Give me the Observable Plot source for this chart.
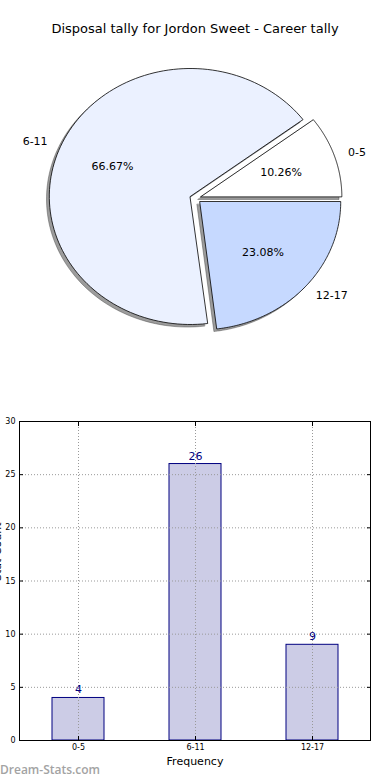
<!DOCTYPE html>
<html><head><meta charset="utf-8">
<script src="https://cdn.jsdelivr.net/npm/d3@7"></script>
<script src="https://cdn.jsdelivr.net/npm/@observablehq/plot@0.6"></script>
<style>
body{margin:0;background:#fff;}
#wrap{position:relative;width:390px;height:780px;overflow:hidden;font-family:"DejaVu Sans",sans-serif;}
.abs{position:absolute;left:0;}
#title{top:21px;width:390px;text-align:center;font-size:13px;color:#000;white-space:nowrap;}
#wm{top:761px;left:0;font-family:"Open Sans",sans-serif;font-weight:600;font-size:12px;color:#a3a3a3;}
</style></head><body><div id="wrap"></div>
<script>
const titleText = "Disposal tally for Jordon Sweet - Career tally";
const categories = ["0-5", "6-11", "12-17"];
const counts = [4, 26, 9];
const pieColors = ["#ffffff", "#ebf1ff", "#c6d9ff"];
const explode = [0.04, 0.04, 0.04];
const yTicks = [0, 5, 10, 15, 20, 25, 30];
const xLabel = "Frequency";
const yLabel = "Stat Count";
const watermark = "Dream-Stats.com";

const wrap = document.getElementById("wrap");
const total = d3.sum(counts);

// ---- pie geometry (matplotlib style: start at east, counter-clockwise) ----
let acc = 0;
const wedges = categories.map((c, i) => {
  const frac = counts[i] / total;
  const a0 = acc, a1 = acc + frac * 2 * Math.PI;
  acc = a1;
  const mid = (a0 + a1) / 2;
  const ox = explode[i] * Math.cos(mid), oy = explode[i] * Math.sin(mid);
  return {c, i, frac, a0, a1, mid, ox, oy, color: pieColors[i]};
});
const N = 120;
const wedgePts = [];
const shadowPts = [];
for (const w of wedges) {
  const pts = [{k: w.c, x: w.ox, y: w.oy, color: w.color}];
  for (let j = 0; j <= N; j++) {
    const a = w.a0 + (w.a1 - w.a0) * j / N;
    pts.push({k: w.c, x: w.ox + Math.cos(a), y: w.oy + Math.sin(a), color: w.color});
  }
  wedgePts.push(...pts);
  shadowPts.push(...pts.map(p => ({k: p.k, x: p.x - 0.02, y: p.y - 0.02})));
}
const outer = wedges.map(w => ({
  text: w.c,
  x: w.ox + 1.1 * Math.cos(w.mid),
  y: w.oy + 1.1 * Math.sin(w.mid),
  right: Math.cos(w.mid) > 0
}));
const pcts = wedges.map(w => ({
  text: (w.frac * 100).toFixed(2) + "%",
  x: w.ox + 0.6 * Math.cos(w.mid),
  y: w.oy + 0.6 * Math.sin(w.mid)
}));

const pieH = 400, rx = 141, ry = 128, cy = 198;
const pie = Plot.plot({
  width: 390, height: pieH, margin: 0,
  style: {fontFamily: "DejaVu Sans", background: "transparent", overflow: "visible"},
  x: {domain: [-195 / rx, 195 / rx], axis: null},
  y: {domain: [-(pieH - cy) / ry, cy / ry], axis: null},
  color: {type: "identity"},
  marks: [
    Plot.line(shadowPts, {x: "x", y: "y", z: "k", curve: "linear-closed", fill: "#3a3a3a", fillOpacity: 0.5, stroke: "#3a3a3a", strokeOpacity: 0.5, strokeWidth: 0.8}),
    Plot.line(wedgePts, {x: "x", y: "y", z: "k", curve: "linear-closed", fill: "color", stroke: "black", strokeWidth: 0.8}),
    Plot.text(outer.filter(d => d.right), {x: "x", y: "y", text: "text", textAnchor: "start", fontSize: 11, fill: "black"}),
    Plot.text(outer.filter(d => !d.right), {x: "x", y: "y", text: "text", textAnchor: "end", fontSize: 11, fill: "black"}),
    Plot.text(pcts, {x: "x", y: "y", text: "text", fontSize: 11, fill: "black"})
  ]
});
pie.classList.add("abs");
pie.style.top = "0px";
wrap.appendChild(pie);

// ---- bar chart ----
const barData = categories.map((c, i) => ({cat: c, count: counts[i]}));
const bar = Plot.plot({
  width: 390, height: 375,
  marginTop: 16, marginBottom: 40, marginLeft: 19, marginRight: 20,
  style: {fontFamily: "DejaVu Sans", fontSize: "8px", background: "transparent", overflow: "visible"},
  x: {domain: categories, paddingInner: 0.556, paddingOuter: 0.278, label: null},
  y: {domain: [0, 30], label: null},
  marks: [
    Plot.barY(barData, {x: "cat", y: "count", fill: "#ccccE6", stroke: "#000080", strokeWidth: 1}),
    Plot.gridY(yTicks, {stroke: "#999", strokeOpacity: 1, strokeWidth: 1, strokeDasharray: "1,2"}),
    Plot.gridX(categories, {stroke: "#999", strokeOpacity: 1, strokeWidth: 1, strokeDasharray: "1,2"}),
    Plot.frame({stroke: "black"}),
    Plot.axisY(yTicks, {anchor: "left", tickSize: -4, tickPadding: 8, label: null, fontSize: 8}),
    Plot.axisY(yTicks, {anchor: "right", tickSize: -4, tickFormat: () => "", label: null}),
    Plot.axisX(categories, {anchor: "bottom", tickSize: -4, tickPadding: 8, label: null, fontSize: 8}),
    Plot.axisX(categories, {anchor: "top", tickSize: -4, tickFormat: () => "", label: null}),
    Plot.text(barData, {x: "cat", y: "count", text: d => String(d.count), dy: -8, fill: "#000080", fontSize: 11}),
    Plot.text([xLabel], {text: d => d, frameAnchor: "bottom", dy: 24, fontSize: 11, fill: "black"}),
    Plot.text([yLabel], {text: d => d, frameAnchor: "left", dx: -22, rotate: -90, fontSize: 11, fill: "black"})
  ]
});
bar.classList.add("abs");
bar.style.top = "405px";
wrap.appendChild(bar);

const t = document.createElement("div");
t.id = "title"; t.className = "abs"; t.textContent = titleText;
wrap.appendChild(t);
const wm = document.createElement("div");
wm.id = "wm"; wm.className = "abs"; wm.textContent = watermark;
wrap.appendChild(wm);
</script></body></html>
